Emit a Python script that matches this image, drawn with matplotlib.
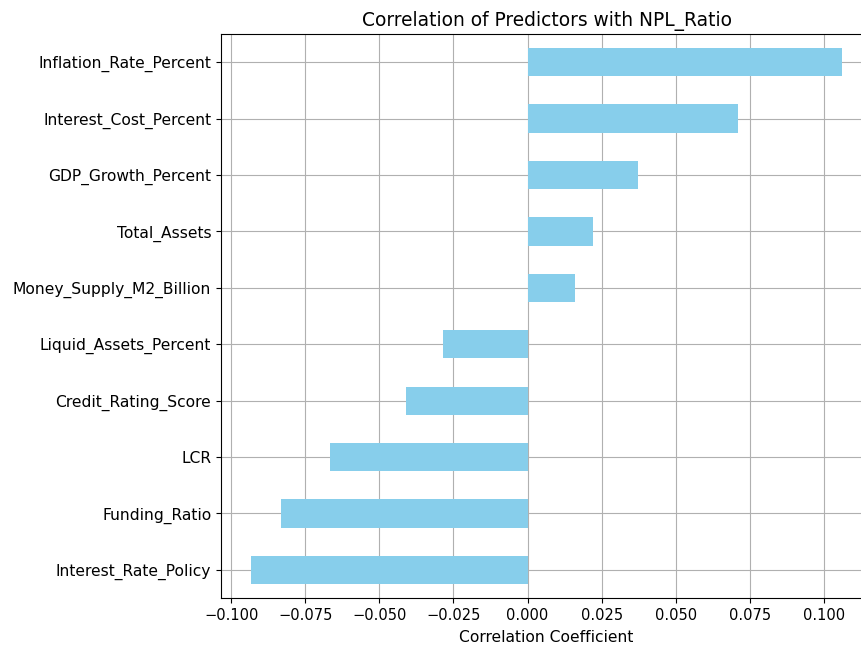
import matplotlib
matplotlib.use("Agg")
import matplotlib.pyplot as plt

features = ["Interest_Rate_Policy", "Funding_Ratio", "LCR", "Credit_Rating_Score",
            "Liquid_Assets_Percent", "Money_Supply_M2_Billion", "Total_Assets",
            "GDP_Growth_Percent", "Interest_Cost_Percent", "Inflation_Rate_Percent"]
correlations = [-0.0935, -0.0833, -0.0667, -0.0411, -0.0286, 0.0161, 0.0222,
                0.0373, 0.0709, 0.1063]
xtick_values = [-0.1, -0.075, -0.05, -0.025, 0.0, 0.025, 0.05, 0.075, 0.1]
xtick_labels = ["−0.100", "−0.075", "−0.050", "−0.025", "0.000", "0.025", "0.050", "0.075", "0.100"]

fig = plt.figure(figsize=(8.61, 6.49), dpi=100)
ax = fig.add_axes([221/861, 51/649, (872-221)/861, 564/649])
pos = list(range(len(features)))
ax.barh(pos, correlations, height=0.5, color="skyblue", zorder=2)
ax.set_yticks(pos)
ax.set_yticklabels(features, fontsize=11.2)
ax.set_ylim(-0.5, len(features) - 0.5)
ax.margins(x=0.05)
ax.grid(True, color="#b0b0b0", linewidth=0.8)
for l in ax.get_xgridlines() + ax.get_ygridlines():
    l.set_zorder(3)
ax.set_xticks(xtick_values)
ax.set_xticklabels(xtick_labels, fontsize=10.5)
ax.set_xlabel("Correlation Coefficient", fontsize=11.2, labelpad=5)
ax.set_title("Correlation of Predictors with NPL_Ratio", fontsize=13.4)
fig.savefig("out.png", dpi=100)
